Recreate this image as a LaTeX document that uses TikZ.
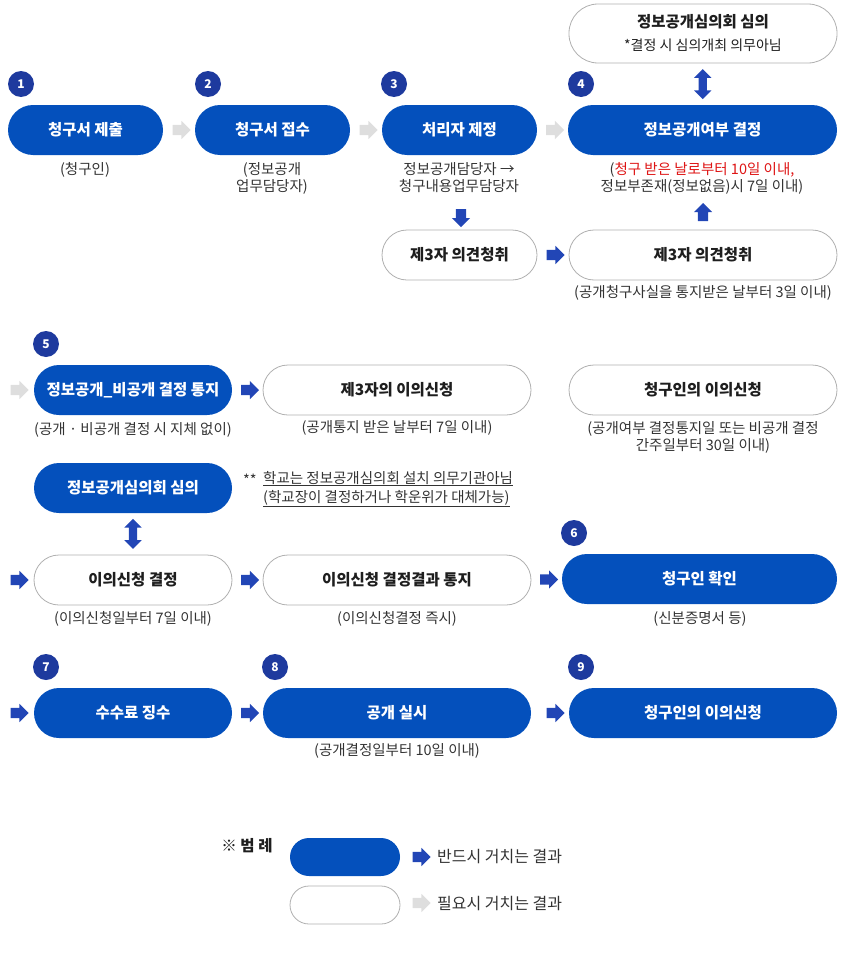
\documentclass[tikz,border=0pt]{standalone}
\usepackage{fontspec}
\setmainfont{Noto Sans CJK KR}
\usetikzlibrary{shapes.arrows,calc}
\definecolor{mainblue}{RGB}{4,80,188}
\definecolor{arrblue}{RGB}{34,70,182}
\definecolor{badgeblue}{RGB}{30,58,158}
\definecolor{grayarr}{RGB}{222,222,222}
\definecolor{bord}{RGB}{176,176,176}
\definecolor{txt}{RGB}{30,30,30}
\definecolor{subt}{RGB}{51,51,51}
\definecolor{redt}{RGB}{222,20,20}
\tikzset{
  bbox/.style={fill=mainblue, text=white, font=\bfseries\fontsize{15.5}{18}\selectfont,
    rounded corners=25pt, minimum height=50pt, inner sep=0pt},
  wbox/.style={draw=bord, line width=0.8pt, fill=white, text=txt,
    font=\bfseries\fontsize{15.5}{18}\selectfont,
    rounded corners=25pt, minimum height=50pt, inner sep=0pt},
  badge/.style={circle, fill=badgeblue, text=white, font=\bfseries\fontsize{12}{12}\selectfont,
    minimum size=26pt, inner sep=0pt},
  subtxt/.style={text=subt, font=\fontsize{14.5}{17}\selectfont, align=center, inner sep=0pt},
  barr/.style={single arrow, fill=arrblue, draw=none, minimum height=18pt,
    single arrow head extend=4pt, inner xsep=0pt, inner ysep=5pt},
  garr/.style={barr, fill=grayarr},
  darr/.style={double arrow, fill=arrblue, draw=none, minimum height=30pt,
    double arrow head extend=4.5pt, inner xsep=0pt, inner ysep=4pt, rotate=90}
}
\begin{document}
\begin{tikzpicture}[x=1pt,y=-1pt]
\useasboundingbox (0,0) rectangle (844,977);
% row 1
\node[wbox, minimum width=268pt, minimum height=59pt, rounded corners=29pt, align=center,
  font=\bfseries\fontsize{15.5}{23}\selectfont] (top) at (703,33.5)
  {정보공개심의회 심의\\{\mdseries\fontsize{14}{16}\selectfont *결정 시 심의개최 의무아님}};
\node[bbox, minimum width=155pt] (b1) at (85.5,130) {청구서 제출};
\node[bbox, minimum width=155pt] (b2) at (272.5,130) {청구서 접수};
\node[bbox, minimum width=155pt] (b3) at (459.5,130) {처리자 제정};
\node[bbox, minimum width=269pt] (b4) at (702.5,130) {정보공개여부 결정};
\node[badge] (n1) at (21,84) {1};
\node[badge] (n2) at (208,84) {2};
\node[badge] (n3) at (394,84) {3};
\node[badge] (n4) at (581,84) {4};
\node[garr] (a12) at ($(b1.east)!0.5!(b2.west)$) {};
\node[garr] (a23) at ($(b2.east)!0.5!(b3.west)$) {};
\node[garr] (a34) at ($(b3.east)!0.5!(b4.west)$) {};
\node[darr] (dtop) at ($(top.south)!0.5!(b4.north)$) {};
\node[subtxt] (s1) at (85,170) {(청구인)};
\node[subtxt] (s2) at (272,178) {(정보공개\\업무담당자)};
\node[subtxt] (s3) at (459,178) {정보공개담당자 →\\청구내용업무담당자};
\node[subtxt] (s4) at (702,178) {({\color{redt}청구 받은 날로부터 10일 이내,}\\정보부존재(정보없음)시 7일 이내)};
\node[wbox, minimum width=155pt] (w3) at (459.5,255) {제3자 의견청취};
\node[wbox, minimum width=268pt] (w4) at (703,255) {제3자 의견청취};
\node[barr, rotate=-90] (d3) at ($(w3.north)+(1.5,-14)$) {};
\node[barr, rotate=90] (u4) at ($(w4.north)+(0,-15)$) {};
\node[barr] (a34b) at ($(w3.east)!0.5!(w4.west)$) {};
\node[subtxt] (s4b) at (703,293) {(공개청구사실을 통지받은 날부터 3일 이내)};
% row 2
\node[badge] (n5) at (46,344) {5};
\node[bbox, minimum width=198pt] (b5) at (133,390) {정보공개\_비공개 결정 통지};
\node[garr] (a05) at (17,390) {};
\node[wbox, minimum width=268pt] (w5) at (397,390) {제3자의 이의신청};
\node[wbox, minimum width=268pt] (w6) at (703,390) {청구인의 이의신청};
\node[barr] (a5w) at ($(b5.east)!0.5!(w5.west)$) {};
\node[subtxt] (s5) at (133,430) {(공개 · 비공개 결정 시 지체 없이)};
\node[subtxt] (s5b) at (397,428) {(공개통지 받은 날부터 7일 이내)};
\node[subtxt] (s6) at (703,437) {(공개여부 결정통지일 또는 비공개 결정\\간주일부터 30일 이내)};
% row 3
\node[bbox, minimum width=198pt] (b7) at (133,488) {정보공개심의회 심의};
\node[subtxt, anchor=west] (star) at (243,480) {**};
\node[subtxt, anchor=west, align=left, font=\fontsize{14.5}{19}\selectfont] (note) at (263,489)
  {\underline{학교는 정보공개심의회 설치 의무기관아님}\\\underline{(학교장이 결정하거나 학운위가 대체가능)}};
% row 4
\node[wbox, minimum width=198pt] (w8) at (133,580) {이의신청 결정};
\node[darr] (d78) at ($(b7.south)!0.5!(w8.north)$) {};
\node[barr] (a08) at (17,580) {};
\node[wbox, minimum width=268pt] (w9) at (397,580) {이의신청 결정결과 통지};
\node[bbox, minimum width=275pt] (b6) at (699.5,579) {청구인 확인};
\node[badge] (n6) at (574,533) {6};
\node[barr] (a89) at ($(w8.east)!0.5!(w9.west)$) {};
\node[barr] (a96) at ($(w9.east)!0.5!(b6.west)$) {};
\node[subtxt] (s8) at (133,619) {(이의신청일부터 7일 이내)};
\node[subtxt] (s9) at (397,619) {(이의신청결정 즉시)};
\node[subtxt] (s6b) at (700,619) {(신분증명서 등)};
% row 5
\node[badge] (n7) at (46,667) {7};
\node[badge] (n8) at (275,667) {8};
\node[badge] (n9) at (581,667) {9};
\node[bbox, minimum width=198pt] (b10) at (133,713) {수수료 징수};
\node[bbox, minimum width=268pt] (b11) at (397,713) {공개 실시};
\node[bbox, minimum width=268pt] (b12) at (703,713) {청구인의 이의신청};
\node[barr] (a010) at (17,713) {};
\node[barr] (a1011) at ($(b10.east)!0.5!(b11.west)$) {};
\node[barr] (a1112) at (553,713) {};
\node[subtxt] (s11) at (397,751) {(공개결정일부터 10일 이내)};
% legend
\node[text=txt, font=\bfseries\fontsize{15.5}{18}\selectfont, inner sep=0pt] (leg) at (247,846) {※ 범 례};
\node[bbox, minimum width=110pt, minimum height=38pt, rounded corners=19pt] (lb1) at (345,857) {};
\node[wbox, minimum width=110pt, minimum height=38pt, rounded corners=19pt] (lb2) at (345,905) {};
\node[barr] (la1) at (419,857) {};
\node[garr] (la2) at (419,903) {};
\node[subtxt, anchor=west, font=\fontsize{16}{18}\selectfont] (lt1) at (437,857) {반드시 거치는 결과};
\node[subtxt, anchor=west, font=\fontsize{16}{18}\selectfont] (lt2) at (437,904) {필요시 거치는 결과};
\end{tikzpicture}
\end{document}
